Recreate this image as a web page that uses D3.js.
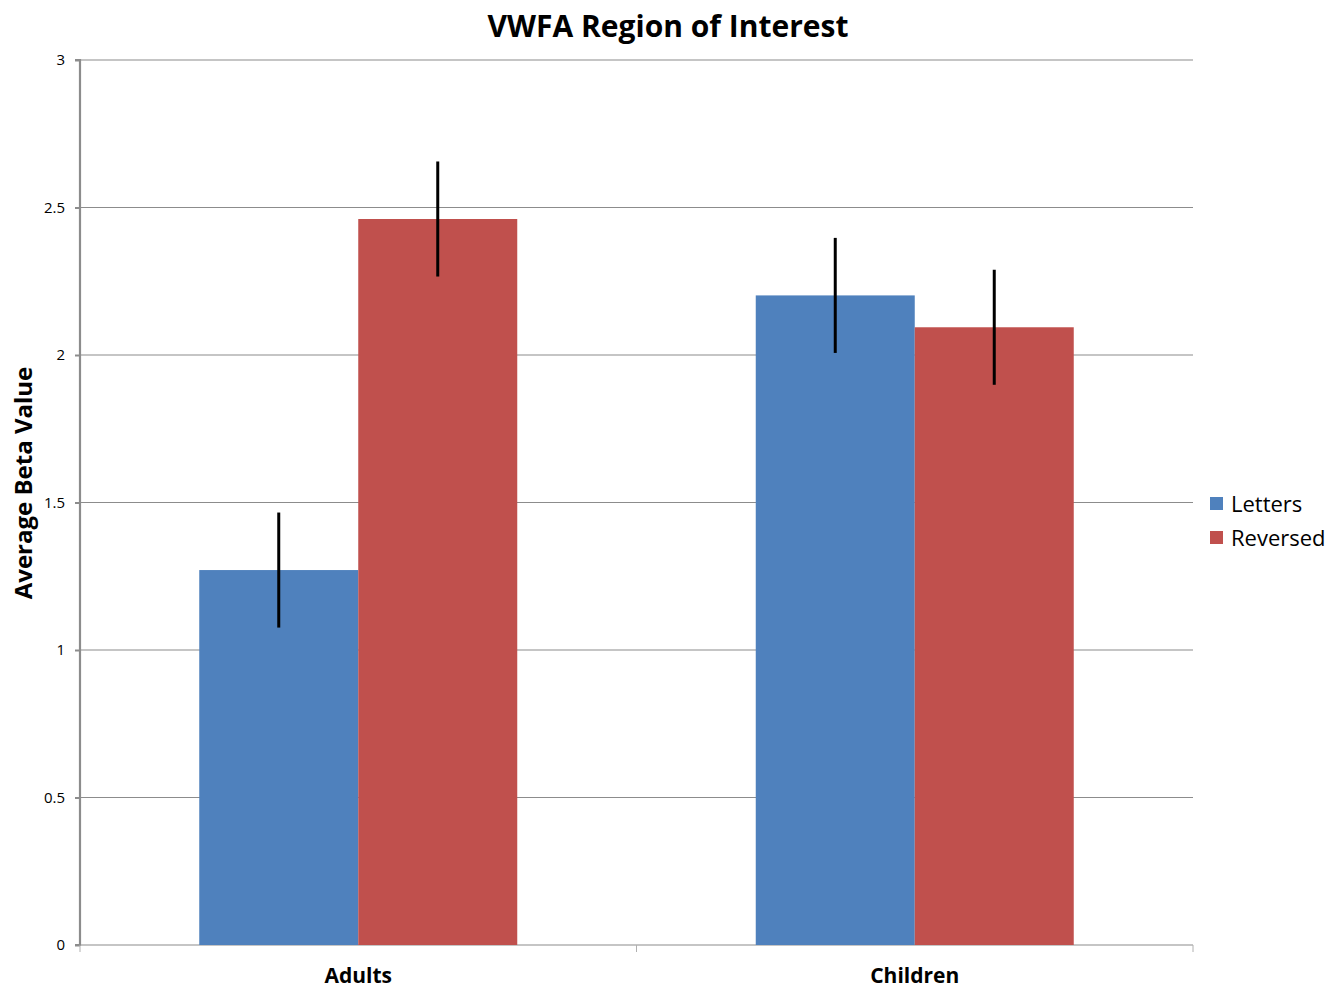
<!DOCTYPE html>
<html><head><meta charset="utf-8">
<script src="https://cdn.jsdelivr.net/npm/d3@7"></script>
<style>body{margin:0;background:#fff}svg{display:block}text{font-family:"Open Sans",sans-serif}</style>
</head><body><svg id="c" width="1341" height="988"></svg>
<script>
const categories = ["Adults", "Children"];
const seriesNames = ["Letters", "Reversed"];
const letters = [1.271, 2.202];
const reversed = [2.461, 2.094];
const lettersErr = [0.195, 0.195];
const reversedErr = [0.195, 0.195];
const yTicks = [0, 0.5, 1, 1.5, 2, 2.5, 3];
const colors = ["#4F81BD", "#C0504D"];

const svg = d3.select("#c");
const L = 80, R = 1193, T = 60, B = 945;
const x0 = d3.scaleBand().domain(categories).range([L, R]).paddingInner(0).paddingOuter(0);
const x1 = d3.scaleBand().domain(seriesNames).range([0, x0.bandwidth()]).paddingInner(0).paddingOuter(0.75);
const y = d3.scaleLinear().domain([0, 3]).range([B, T]);

// gridlines
svg.append("g").selectAll("line").data(yTicks.filter(d => d > 0)).join("line")
  .attr("x1", L).attr("x2", R).attr("y1", d => y(d)).attr("y2", d => y(d))
  .attr("stroke", "#8c8c8c").attr("stroke-width", 1.2);

// y axis
const yAxis = d3.axisLeft(y).tickValues(yTicks).tickSize(5).tickPadding(10).tickFormat(d3.format("~g"));
const gy = svg.append("g").attr("transform", `translate(${L},0)`).call(yAxis);
gy.select(".domain").attr("stroke", "#8c8c8c").attr("stroke-width", 2.2).attr("d", `M-5,${T}H0V${B}H-5`);
gy.selectAll(".tick line").attr("stroke", "#8c8c8c").attr("stroke-width", 2);
gy.selectAll(".tick text").attr("font-size", 15).attr("fill", "#000").attr("font-family", "'Open Sans',sans-serif");

// x axis
const gx = svg.append("g").attr("transform", `translate(0,${B})`);
gx.append("line").attr("x1", L).attr("x2", R).attr("y1", 0).attr("y2", 0).attr("stroke", "#8c8c8c").attr("stroke-width", 1.2);
const bounds = [L].concat(categories.map(c => x0(c) + x0.bandwidth()));
gx.selectAll(".xt").data(bounds).join("line").attr("class", "xt")
  .attr("x1", d => d).attr("x2", d => d).attr("y1", 0).attr("y2", 7)
  .attr("stroke", "#b0b0b0").attr("stroke-width", 1);
gx.selectAll(".xl").data(categories).join("text").attr("class", "xl")
  .attr("x", d => x0(d) + x0.bandwidth() / 2).attr("y", 38)
  .attr("text-anchor", "middle").attr("font-size", 21).attr("font-weight", "bold").text(d => d);

// bars
const data = categories.map((c, i) => ({
  cat: c,
  vals: [
    { s: seriesNames[0], v: letters[i], e: lettersErr[i], col: colors[0] },
    { s: seriesNames[1], v: reversed[i], e: reversedErr[i], col: colors[1] }
  ]
}));
const g = svg.append("g").selectAll("g").data(data).join("g")
  .attr("transform", d => `translate(${x0(d.cat)},0)`);
g.selectAll("rect").data(d => d.vals).join("rect")
  .attr("x", d => x1(d.s)).attr("width", x1.bandwidth())
  .attr("y", d => y(d.v)).attr("height", d => y(0) - y(d.v))
  .attr("fill", d => d.col);
g.selectAll("line.err").data(d => d.vals).join("line").attr("class", "err")
  .attr("x1", d => x1(d.s) + x1.bandwidth() / 2).attr("x2", d => x1(d.s) + x1.bandwidth() / 2)
  .attr("y1", d => y(d.v + d.e)).attr("y2", d => y(d.v - d.e))
  .attr("stroke", "#000").attr("stroke-width", 3);

// title
svg.append("text").attr("x", 668).attr("y", 37).attr("text-anchor", "middle")
  .attr("font-size", 30).attr("font-weight", "bold").text("VWFA Region of Interest");

// y title
svg.append("text").attr("transform", `translate(32,483) rotate(-90)`).attr("text-anchor", "middle")
  .attr("font-size", 24).attr("font-weight", "bold").text("Average Beta Value");

// legend
const lg = svg.append("g").selectAll("g").data(seriesNames).join("g")
  .attr("transform", (d, i) => `translate(1210,${497 + i * 34})`);
lg.append("rect").attr("width", 13).attr("height", 13).attr("fill", (d, i) => colors[i]);
lg.append("text").attr("x", 21).attr("y", 14.5).attr("font-size", 22).text(d => d);
</script></body></html>
